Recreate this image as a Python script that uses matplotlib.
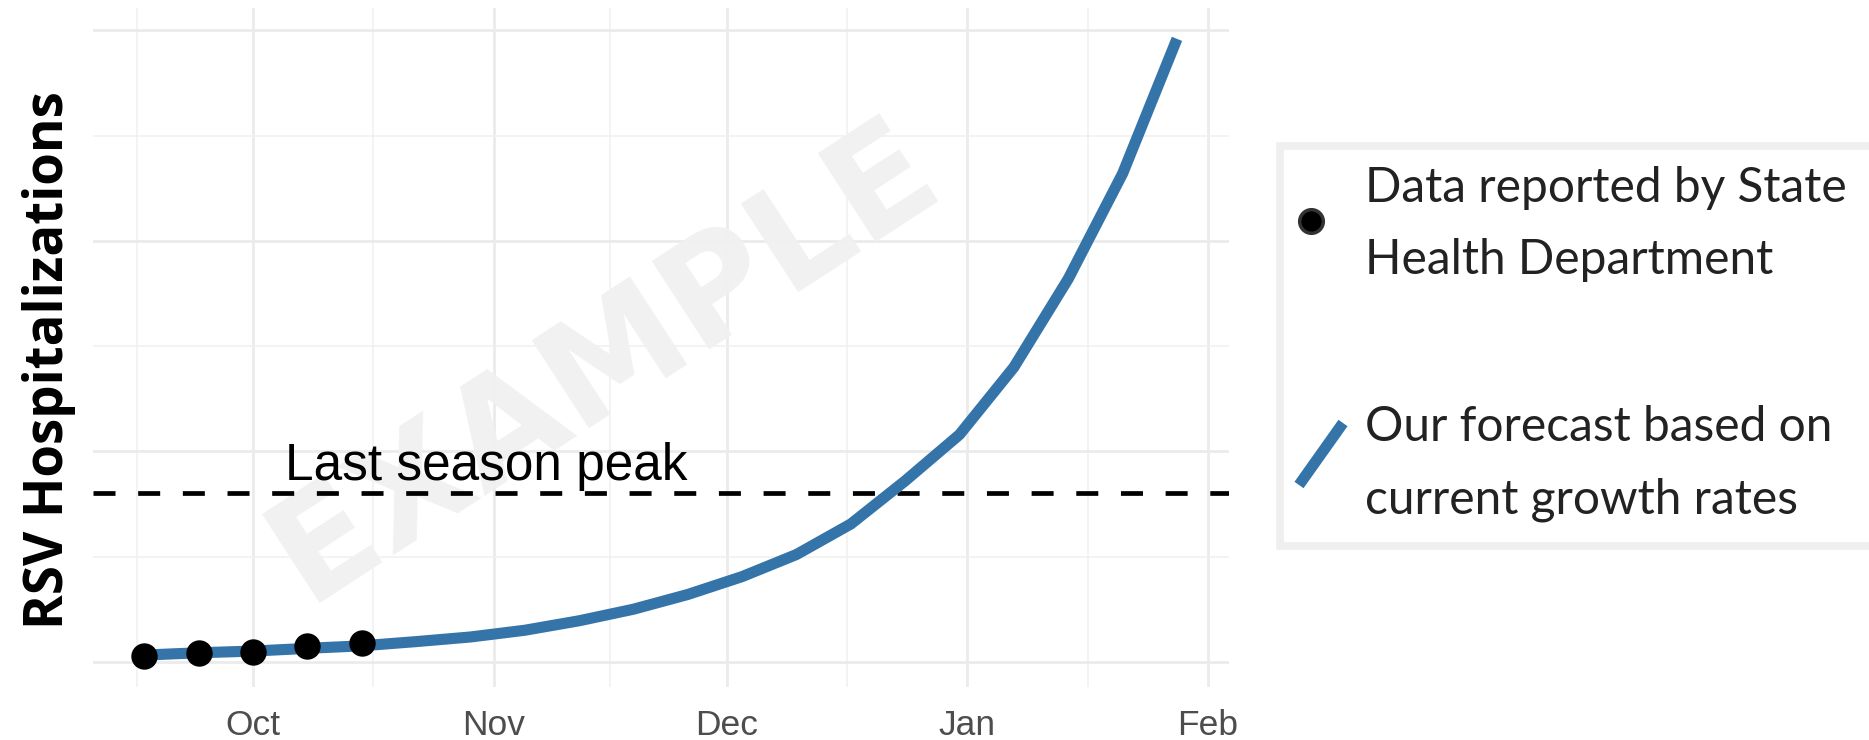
import matplotlib
matplotlib.use("Agg")
import matplotlib.pyplot as plt
import matplotlib.dates as mdates
import matplotlib.transforms as mtransforms
from matplotlib.lines import Line2D
from matplotlib.patches import Rectangle
import numpy as np
import pandas as pd

# ---------------- data ----------------
forecast_dates = ["2023-09-17", "2023-09-24", "2023-10-01", "2023-10-08", "2023-10-15",
                  "2023-10-22", "2023-10-29", "2023-11-05", "2023-11-12", "2023-11-19",
                  "2023-11-26", "2023-12-03", "2023-12-10", "2023-12-17", "2023-12-24",
                  "2023-12-31", "2024-01-07", "2024-01-14", "2024-01-21", "2024-01-28"]
forecast_values = [3.2, 4.3, 5.1, 6.4, 7.6, 9.6, 11.8, 15.0, 19.5, 25.0,
                   32.0, 40.5, 51.0, 65.5, 86.0, 108.0, 140.0, 182.0, 232.0, 296.0]
observed_dates = ["2023-09-17", "2023-09-24", "2023-10-01", "2023-10-08", "2023-10-15"]
observed_values = [2.7, 4.0, 4.8, 7.6, 9.0]
last_season_peak = 80
peak_label = "Last season peak"
peak_label_date = "2023-10-31"
month_ticks = ["2023-10-01", "2023-11-01", "2023-12-01", "2024-01-01", "2024-02-01"]
month_labels = ["Oct", "Nov", "Dec", "Jan", "Feb"]
y_major = [0, 100, 200, 300]
y_minor = [50, 150, 250]
legend_labels = ["Data reported by State\nHealth Department",
                 "Our forecast based on\ncurrent growth rates"]
y_label = "RSV Hospitalizations"
watermark = "EXAMPLE"

BLUE = "#3474a9"
W, H = 1869, 740

fig = plt.figure(figsize=(W / 100, H / 100), dpi=100)
fig.patch.set_facecolor("white")
# pixel transform (origin top-left)
pix = mtransforms.Affine2D().scale(1 / W, -1 / H).translate(0, 1) + fig.transFigure

ax = fig.add_axes([92.7 / W, (H - 687) / H, (1228.6 - 92.7) / W, (687 - 8) / H])

fx = mdates.date2num(pd.to_datetime(forecast_dates))
ox = mdates.date2num(pd.to_datetime(observed_dates))
mx = mdates.date2num(pd.to_datetime(month_ticks))

# ggplot-like 5% expansion
allx = np.concatenate([fx, ox])
ally = np.concatenate([forecast_values, observed_values])
dx = allx.max() - allx.min()
dy = ally.max() - ally.min()
ax.set_xlim(allx.min() - 0.05 * dx, allx.max() + 0.05 * dx)
ax.set_ylim(ally.min() - 0.05 * dy, ally.max() + 0.05 * dy)

# ticks / grid
prev_major = mdates.date2num(pd.Timestamp(month_ticks[0]) - pd.DateOffset(months=1))
majors_ext = np.concatenate([[prev_major], mx])
x_minor = (majors_ext[:-1] + majors_ext[1:]) / 2
ax.set_xticks(mx, labels=month_labels)
ax.set_xticks(x_minor, minor=True)
ax.set_yticks(y_major)
ax.set_yticks(y_minor, minor=True)
ax.set_yticklabels([])
ax.tick_params(which="both", length=0)
ax.tick_params(axis="x", which="major", pad=15.5, labelsize=25.5, labelcolor="#4d4d4d")
for lab in ax.get_xticklabels():
    lab.set_family("Liberation Sans")
ax.set_axisbelow(True)
ax.grid(which="major", color="#ebebeb", lw=2.0)
ax.grid(which="minor", color="#f0f0f0", lw=1.1)
for s in ax.spines.values():
    s.set_visible(False)

# watermark
ax.text(0.451, 0.479, watermark, transform=ax.transAxes, rotation=33,
        rotation_mode="anchor", ha="center", va="center", fontsize=104,
        fontweight="bold", family="DejaVu Sans", color="#f1f1f1", zorder=0.8)

# last season peak
ax.axhline(last_season_peak, color="black", lw=3.4, dashes=(4.66, 4.8), zorder=2)
ax.text(mdates.date2num(pd.Timestamp(peak_label_date)), 86.4, peak_label,
        ha="center", va="baseline", fontsize=37, family="Liberation Sans",
        color="black", zorder=3)

# forecast and observed
ax.plot(fx, forecast_values, color=BLUE, lw=8, solid_joinstyle="round",
        solid_capstyle="butt", zorder=4)
ax.plot(ox, observed_values, "o", color="black", ms=19, mec="black", mew=0, zorder=5)

# y label
fig.text(49, 360, y_label, transform=pix, rotation=90, ha="center", va="center",
         fontsize=38, fontweight="bold", family="Open Sans", color="black")

# legend (manual, ggplot-like)
fig.add_artist(Rectangle((1280, 145.5), 700, 400, transform=pix, fc="white",
                         ec="#efefef", lw=5.5, clip_on=False))
fig.add_artist(Line2D([1311], [221], transform=pix, marker="o", ms=17,
                      mfc="black", mec="#333333", mew=2.5, ls="none"))
fig.add_artist(Line2D([1299, 1343], [485, 423], transform=pix, color=BLUE,
                      lw=8, solid_capstyle="butt"))
baselines = [[202, 274.5], [440.7, 513]]
for lab, bls in zip(legend_labels, baselines):
    for line, b in zip(lab.split("\n"), bls):
        fig.text(1365, b, line, transform=pix, ha="left", va="baseline",
                 fontsize=34.5, family="Lato", fontweight="normal", color="#222222")

fig.savefig("out.png", dpi=100)
